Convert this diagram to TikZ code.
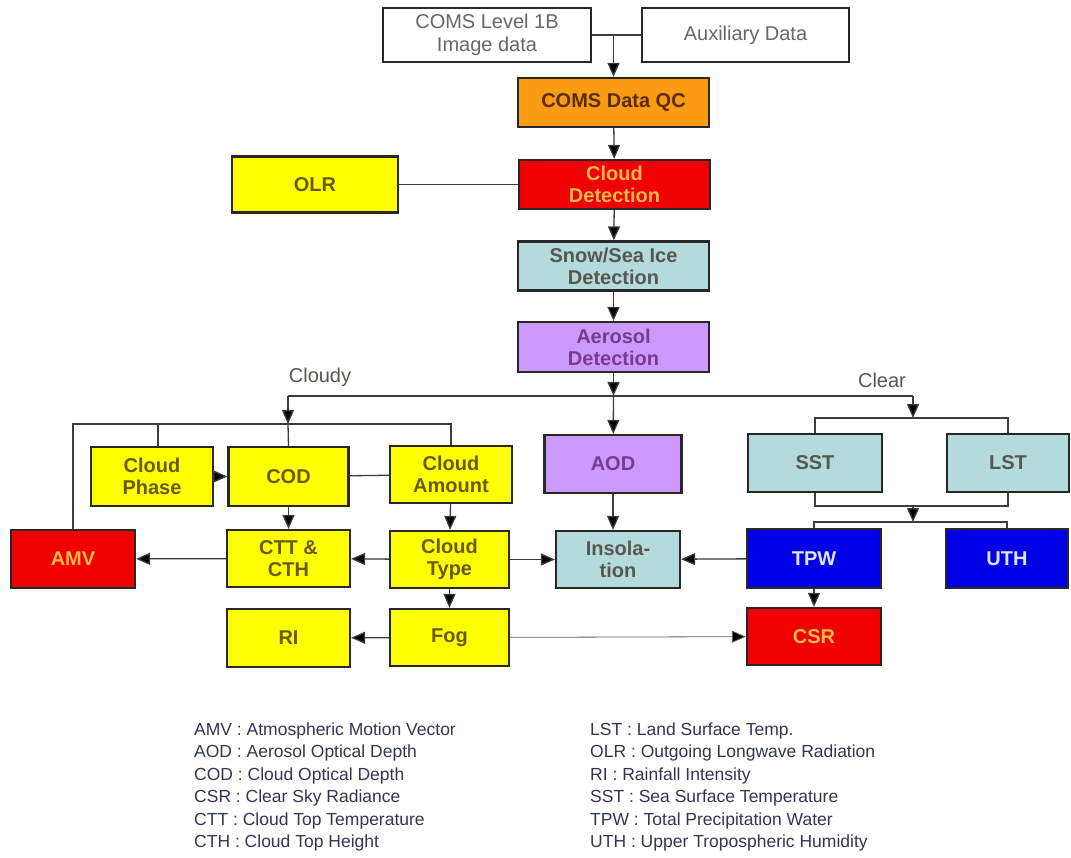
\documentclass[tikz,border=0pt]{standalone}
\usepackage{fontspec}
\setmainfont{Liberation Sans}
\usetikzlibrary{arrows.meta}

\definecolor{qcorange}{RGB}{250,155,20}
\definecolor{boxred}{RGB}{240,0,0}
\definecolor{boxyellow}{RGB}{255,255,0}
\definecolor{boxcyan}{RGB}{180,218,220}
\definecolor{boxpurple}{RGB}{204,153,255}
\definecolor{boxblue}{RGB}{0,0,230}
\definecolor{edgegray}{RGB}{40,40,40}
\definecolor{linegray}{RGB}{60,60,60}
\definecolor{txtbrown}{RGB}{90,45,0}
\definecolor{txtorange}{RGB}{255,185,70}
\definecolor{txtolive}{RGB}{105,90,0}
\definecolor{txtgray}{RGB}{85,88,80}
\definecolor{txtpurple}{RGB}{120,60,140}
\definecolor{txtwhite}{RGB}{220,228,255}
\definecolor{txtlegend}{RGB}{50,55,80}

\begin{document}
\begin{tikzpicture}[x=1pt, y=-1pt,
    box/.style={draw=edgegray, line width=2.2pt, inner sep=0pt, align=center,
        font=\fontsize{20}{22}\selectfont\bfseries},
    topbox/.style={box, fill=white, text=txtgray!90,
        font=\fontsize{20}{23}\selectfont},
    ybox/.style={box, fill=boxyellow, text=txtolive},
    rbox/.style={box, fill=boxred, text=txtorange},
    cbox/.style={box, fill=boxcyan, text=txtgray},
    pbox/.style={box, fill=boxpurple, text=txtpurple},
    bbox/.style={box, fill=boxblue, text=txtwhite},
    conn/.style={draw=linegray, line width=1.3pt},
    arr/.style={conn, -{Triangle[length=14pt,width=12pt,fill=black]}},
    branch/.style={text=txtgray, font=\fontsize{20}{22}\selectfont},
    legend/.style={anchor=west, inner sep=0pt, text=txtlegend,
        font=\fontsize{17.5}{20}\selectfont}]
    \useasboundingbox (0,0) rectangle (1071,858);

    % input and preprocessing chain
    \node[topbox, minimum width=208, minimum height=54] (l1b) at (487,35) {COMS Level 1B\\Image data};
    \node[topbox, minimum width=207, minimum height=54] (aux) at (745.5,35) {Auxiliary Data};
    \node[box, fill=qcorange, text=txtbrown, minimum width=191, minimum height=49] (qc) at (613.5,102.5) {COMS Data QC};
    \node[rbox, minimum width=191, minimum height=49] (cdet) at (614.5,184.5) {Cloud\\Detection};
    \node[ybox, minimum width=166, minimum height=56] (olr) at (315,184.5) {OLR};
    \node[cbox, minimum width=191, minimum height=49] (snow) at (613.5,266) {Snow/Sea Ice\\Detection};
    \node[pbox, minimum width=191, minimum height=50] (aero) at (613.5,347) {Aerosol\\Detection};

    % cloudy products
    \node[ybox, minimum width=122, minimum height=59] (cphase) at (152,476.5) {Cloud\\Phase};
    \node[ybox, minimum width=120, minimum height=59] (cod) at (288.5,476.5) {COD};
    \node[ybox, minimum width=122, minimum height=57] (camt) at (451,474.5) {Cloud\\Amount};
    \node[rbox, minimum width=124, minimum height=58] (amv) at (73,559) {AMV};
    \node[ybox, minimum width=123, minimum height=57] (ctt) at (288.5,558.5) {CTT \&\\CTH};
    \node[ybox, minimum width=119, minimum height=57] (ctype) at (449.5,559.5) {Cloud\\Type};
    \node[ybox, minimum width=123, minimum height=58] (ri) at (288.5,638) {RI};
    \node[ybox, minimum width=119, minimum height=57] (fog) at (449.5,637.5) {Fog};

    % aerosol and clear products
    \node[pbox, minimum width=137, minimum height=58] (aod) at (613,464) {AOD};
    \node[cbox, minimum width=124, minimum height=57] (insol) at (618,559.5) {Insola-\\tion};
    \node[cbox, minimum width=134, minimum height=58] (sst) at (815,463) {SST};
    \node[cbox, minimum width=122, minimum height=58] (lst) at (1008,463) {LST};
    \node[bbox, minimum width=134, minimum height=59] (tpw) at (814,558.5) {TPW};
    \node[bbox, minimum width=122, minimum height=59] (uth) at (1007,558.5) {UTH};
    \node[rbox, minimum width=134, minimum height=57] (csr) at (814,636.5) {CSR};

    % junction points
    \coordinate (split) at (613.5,396);
    \coordinate (cloudy) at (288,396);
    \coordinate (clear) at (913,396);
    \coordinate (cbar) at (288,424);
    \coordinate (sbar) at (913,418);
    \coordinate (sjoin) at (913,506);
    \coordinate (tbar) at (913,522);

    \node[branch] (cloudylbl) at (320,377) {Cloudy};
    \node[branch] (clearlbl) at (882,380) {Clear};

    % top part
    \draw[conn] (l1b.east) -- (aux.west);
    \draw[arr] (qc.north |- l1b.east) -- (qc.north);
    \draw[arr] (qc) -- (cdet);
    \draw[conn] (olr) -- (cdet);
    \draw[arr] (cdet) -- (snow);
    \draw[arr] (snow) -- (aero);
    \draw[arr] (aero) -- (split);
    \draw[conn] (cloudy) -- (clear);
    \draw[arr] (split) -- (aod);
    \draw[arr] (cloudy) -- (cbar);
    \draw[arr] (clear) -- (sbar);

    % cloudy side
    \draw[conn] (amv.north) -- (amv.north |- cbar) -- (camt.north |- cbar) -- (camt.north);
    \draw[conn] ([xshift=6pt]cphase.north |- cbar) -- ([xshift=6pt]cphase.north);
    \draw[conn] (cbar) -- (cod.north);
    \draw[arr] (cphase) -- (cod);
    \draw[conn] (cod) -- (camt);
    \draw[arr] (cod) -- (ctt);
    \draw[arr] (camt) -- (ctype);
    \draw[arr] (ctype) -- (ctt);
    \draw[arr] (ctt) -- (amv);
    \draw[arr] (ctype) -- (fog);
    \draw[arr] (fog) -- (ri);
    \draw[arr] (ctype) -- (insol);
    \draw[arr, line width=0.8pt, draw=linegray!80] (fog) -- (csr);

    % clear side
    \draw[conn] (sst.north) -- (sst.north |- sbar) -- (lst.north |- sbar) -- (lst.north);
    \draw[conn] (sst.south) -- (sst.south |- sjoin) -- (lst.south |- sjoin) -- (lst.south);
    \draw[arr] (sjoin) -- (tbar);
    \draw[conn] (tpw.north) -- (tpw.north |- tbar) -- (uth.north |- tbar) -- (uth.north);
    \draw[arr] (aod) -- (insol.north -| aod);
    \draw[arr] (tpw) -- (insol);
    \draw[arr] (tpw) -- (csr);

    % abbreviations
    \foreach \abbr/\full [count=\i] in {AMV/Atmospheric Motion Vector, AOD/Aerosol Optical Depth,
        COD/Cloud Optical Depth, CSR/Clear Sky Radiance, CTT/Cloud Top Temperature, CTH/Cloud Top Height}
        \node[legend] (keyl\i) at (194,{731+22.4*(\i-1)}) {\abbr\ : \full};
    \foreach \abbr/\full [count=\i] in {LST/Land Surface Temp., OLR/Outgoing Longwave Radiation,
        RI/Rainfall Intensity, SST/Sea Surface Temperature, TPW/Total Precipitation Water, UTH/Upper Tropospheric Humidity}
        \node[legend] (keyr\i) at (590,{731+22.4*(\i-1)}) {\abbr\ : \full};
\end{tikzpicture}
\end{document}
